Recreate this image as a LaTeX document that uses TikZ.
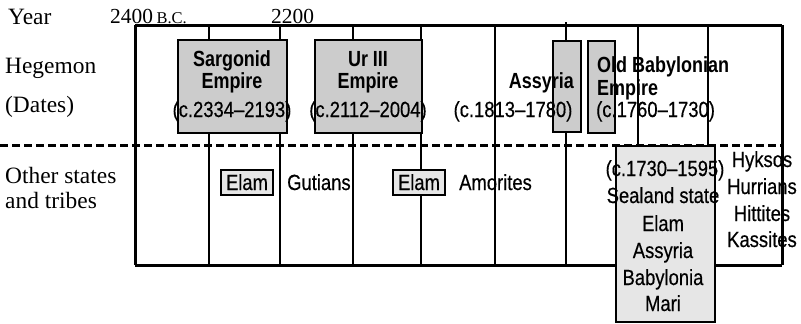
\documentclass[tikz,border=0pt]{standalone}
\usepackage{fontspec}
\setmainfont{Liberation Serif}
\newfontfamily\cond[FakeStretch=0.84,FakeBold=0.4]{Liberation Sans}
\newfontfamily\condb[FakeStretch=0.82]{Liberation Sans}
\definecolor{hgray}{HTML}{CCCCCC}
\definecolor{lgray}{HTML}{E6E6E6}
\begin{document}
\begin{tikzpicture}[x=1bp,y=-1bp,
  serif/.style={font=\fontsize{23.5}{28}\selectfont, inner sep=0pt, anchor=base west},
  sans/.style={font=\cond\fontsize{22}{26}\selectfont, inner sep=0pt, anchor=base},
  sansb/.style={font=\condb\bfseries\fontsize{22}{26}\selectfont, inner sep=0pt, anchor=base},
  frame/.style={line width=3bp},
  grid/.style={line width=1.8bp},
  gridb/.style={line width=2.4bp},
  hbox/.style={draw=black, line width=2bp, fill=hgray},
  lbox/.style={draw=black, line width=1.6bp, fill=lgray},
  sep/.style={line width=3bp, dash pattern=on 7.5bp off 4.5bp}
]
\useasboundingbox (0,0) rectangle (801,323);
% grid lines
\foreach \x in {209,495,708} \draw[grid] (\x,25) -- (\x,265);
\draw[grid] (566,22) -- (566,265);
\foreach \x in {280,353,421,638} \draw[gridb] (\x,25) -- (\x,265);
% frame
\draw[frame] (135,25) -- (782,25);
\draw[frame] (135,265) -- (782,265);
\draw[frame] (135,25) -- (135,265);
\draw[frame] (782,25) -- (782,265);
% dashed separator
\draw[sep] (0,145) -- (782,145);
% hegemon boxes
\draw[hbox] (178,40) rectangle (287,133);
\draw[hbox] (315,40) rectangle (422,133);
\draw[hbox] (553,41) rectangle (581,132);
\draw[hbox] (588,41) rectangle (615,133);
% other boxes
\draw[lbox] (221,170) rectangle (273,195);
\draw[lbox] (393,170) rectangle (445,195);
\draw[lbox] (616,146) rectangle (715,322);
% left labels
\node[serif] (year) at (8,24) {Year};
\node[serif, font=\fontsize{21.5}{26}\selectfont] (y2400) at (110,23) {2400\,{\fontsize{16.5}{20}\selectfont B.C.}};
\node[serif, font=\fontsize{21.5}{26}\selectfont] (y2200) at (271,23) {2200};
\node[serif] (heg) at (5,73) {Hegemon};
\node[serif] (dates) at (5,112) {(Dates)};
\node[serif] (other1) at (5,183) {Other states};
\node[serif] (other2) at (5,208) {and tribes};
% hegemons
\node[sansb] (sar1) at (232,66) {Sargonid};
\node[sansb] (sar2) at (232,88) {Empire};
\node[sans] (sard) at (232,117) {(c.2334–2193)};
\node[sansb] (ur1) at (368,66) {Ur III};
\node[sansb] (ur2) at (368,88) {Empire};
\node[sans] (urd) at (368,117) {(c.2112–2004)};
\node[sansb, anchor=base east] (ass) at (574,88) {Assyria};
\node[sans] (assd) at (513,117) {(c.1813–1780)};
\node[sansb, anchor=base west] (ob1) at (597,72) {Old Babylonian};
\node[sansb, anchor=base west] (ob2) at (597,95) {Empire};
\node[sans, anchor=base west] (obd) at (596,117) {(c.1760–1730)};
% other states
\node[sans] (elam1) at (247,190) {Elam};
\node[sans, anchor=base west] (gut) at (287,190) {Gutians};
\node[sans] (elam2) at (419,190) {Elam};
\node[sans, anchor=base west] (amo) at (459,190) {Amorites};
\node[sans] (sld) at (665,176) {(c.1730–1595)};
\node[sans] (sl1) at (663,203) {Sealand state};
\node[sans] (sl2) at (663,231) {Elam};
\node[sans] (sl3) at (663,258) {Assyria};
\node[sans] (sl4) at (663,285) {Babylonia};
\node[sans] (sl5) at (663,311) {Mari};
\node[sans] (hyk) at (762,167) {Hyksos};
\node[sans] (hur) at (762,194) {Hurrians};
\node[sans] (hit) at (762,221) {Hittites};
\node[sans] (kas) at (762,247) {Kassites};
\end{tikzpicture}
\end{document}
